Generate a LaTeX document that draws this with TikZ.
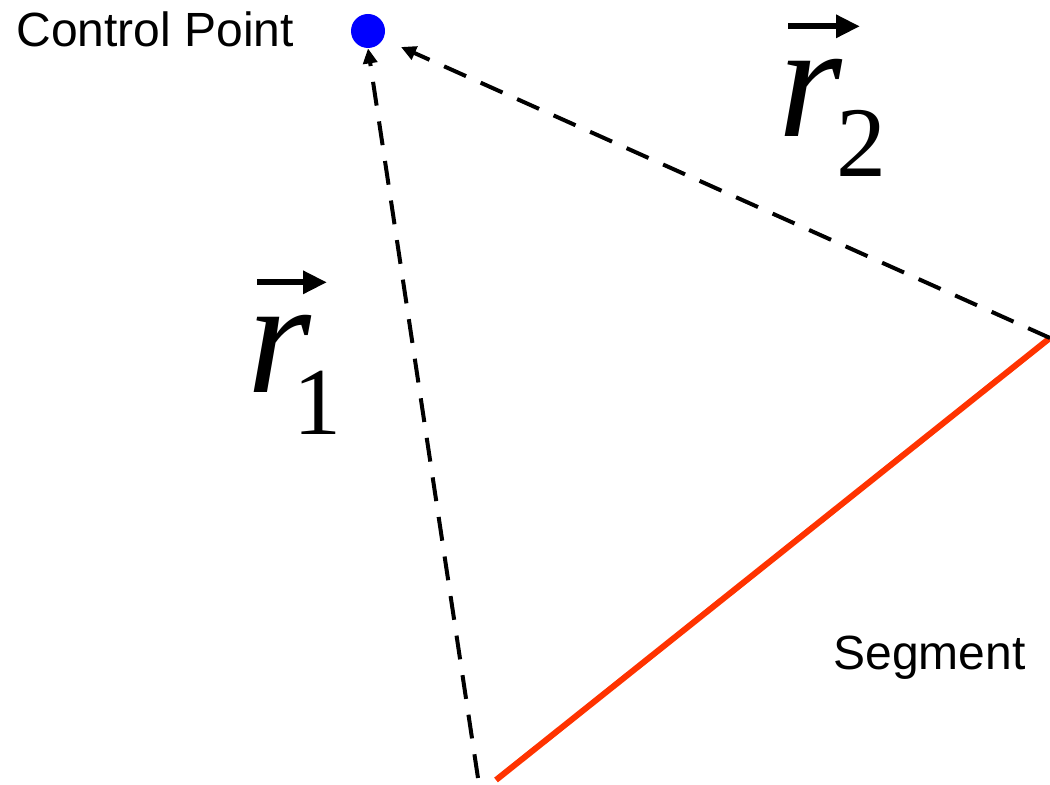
\documentclass[tikz,border=0pt]{standalone}
\usepackage{fontspec}
\setmainfont{Liberation Sans}
\newfontfamily\eqfont{Liberation Serif}
\usetikzlibrary{arrows.meta,positioning}
\definecolor{cpblue}{HTML}{0000FF}
\definecolor{sgred}{HTML}{FF3300}

\begin{document}
\begin{tikzpicture}[
  x=0.5pt, y=-0.5pt,
  ctrl/.style={circle, fill=cpblue, inner sep=0pt, minimum size=17pt},
  seg/.style={sgred, line width=3pt},
  vec/.style={dashed, dash pattern=on 12pt off 8pt, line width=2pt,
    -{Triangle[length=7.5pt, width=7pt]}},
  lbl/.style={font=\fontsize{24}{28}\selectfont, anchor=base west, inner sep=0pt},
  sym/.style={font=\eqfont\fontsize{82}{82}\selectfont\itshape, anchor=base west, inner sep=0pt},
  hatarr/.style={line width=3pt, -{Triangle[length=12pt, width=11pt]}},
]
  \useasboundingbox (0,0) rectangle (1050,785);

  %% ---- Punkte ----
  \node[ctrl] (cp) at (368,31) {};
  \coordinate (a) at (496,780);
  \coordinate (b) at (1050,338);

  %% ---- Segment ----
  \draw[seg] (a) -- (b);

  %% ---- Abstandsvektoren ----
  \draw[vec] (478,778) -- (cp.south);
  \draw[vec] (b) -- (401,47);

  %% ---- Beschriftungen ----
  \node[lbl] (cplbl)  at (16,47)   {Control Point};
  \node[lbl] (seglbl) at (833,670) {Segment};

  \node[sym] (r1) at (247,393)
    {r\kern-9pt\raisebox{-21pt}{\fontsize{48}{48}\selectfont\upshape 1}};
  \draw[hatarr] ([shift={(10,-33)}]r1.north west) -- ++(70,0);

  \node[sym] (r2) at (778,137)
    {r\kern-3pt\raisebox{-20pt}{\fontsize{50}{50}\selectfont\upshape 2}};
  \draw[hatarr] ([shift={(10,-33)}]r2.north west) -- ++(72,0);

\end{tikzpicture}
\end{document}
